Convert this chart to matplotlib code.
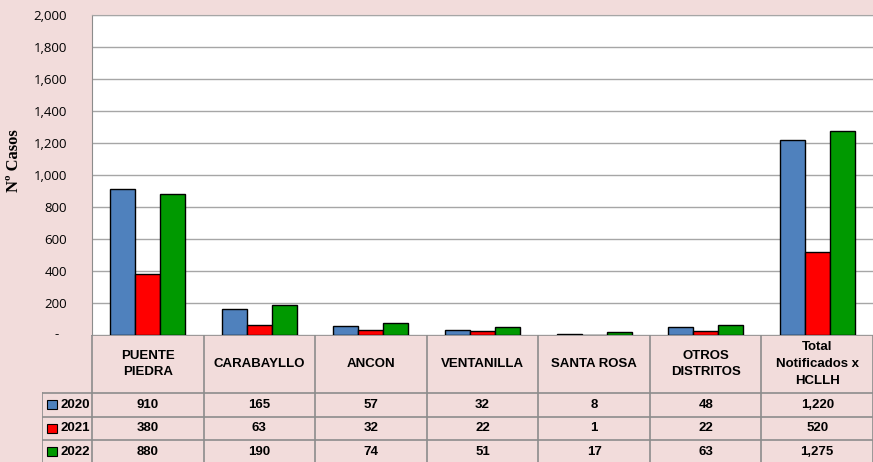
import matplotlib.pyplot as plt
import matplotlib.transforms as mtransforms
import numpy as np

plt.rcParams['font.family'] = ['Liberation Sans', 'DejaVu Sans']

# datos
distritos = ['PUENTE\nPIEDRA', 'CARABAYLLO', 'ANCON', 'VENTANILLA',
             'SANTA ROSA', 'OTROS\nDISTRITOS', 'Total\nNotificados x\nHCLLH']
anios = ['2020', '2021', '2022']
casos_2020 = [910, 165, 57, 32, 8, 48, 1220]
casos_2021 = [380, 63, 32, 22, 1, 22, 520]
casos_2022 = [880, 190, 74, 51, 17, 63, 1275]
colores = ['#4f81bd', '#ff0000', '#009900']
yticks = [0, 200, 400, 600, 800, 1000, 1200, 1400, 1600, 1800, 2000]

series = [casos_2020, casos_2021, casos_2022]
W, H = 873, 462
fondo = '#f2dcdb'
linea = '#8c8c8c'

fig = plt.figure(figsize=(W / 100, H / 100), dpi=100, facecolor=fondo)

# grafico de barras
ax = fig.add_axes([92 / W, 1 - 335 / H, (W - 92) / W, 320 / H])
ax.set_facecolor('white')
x = np.arange(len(distritos))
ancho = 0.224
for i, (vals, c) in enumerate(zip(series, colores)):
    ax.bar(x + (i - 1) * ancho, vals, width=ancho, color=c,
           edgecolor='black', linewidth=1, zorder=3)

ax.set_xlim(-0.5, len(distritos) - 0.5)
ax.set_ylim(0, 2000)
ax.set_yticks(yticks)
ax.set_yticklabels(['' if v == 0 else f'{v:,}' for v in yticks],
                   family='Open Sans', fontsize=9.5)
ax.tick_params(axis='y', length=0, pad=18)
# el cero se muestra como guion (formato contable)
trans = mtransforms.blended_transform_factory(fig.transFigure, ax.transData)
ax.text(57 / W, 0, '-', transform=trans, ha='center', va='center',
        family='Open Sans', fontsize=9.5)
ax.set_xticks([])
ax.grid(axis='y', color='#a6a6a6', linewidth=1, zorder=0)
for s in ['right', 'bottom']:
    ax.spines[s].set_visible(False)
ax.spines['top'].set_color('#a6a6a6')
ax.spines['left'].set_color(linea)
fig.text(14 / W, 1 - 161 / H, 'Nº Casos', family='Liberation Serif',
         fontweight='bold', fontsize=12, rotation=90, ha='center', va='center')

# tabla de datos
tax = fig.add_axes([42 / W, 0, (W - 42) / W, 127 / H])
leg_w = 50 / ((W - 92) / len(distritos))
tax.set_xlim(-leg_w, len(distritos))
tax.set_ylim(127, 0)
tax.axis('off')

fila_h = 23.5
y_head = 58
ys = [y_head + k * fila_h for k in range(len(anios) + 1)]

# lineas
tax.plot([0, len(distritos)], [0, 0], color=linea, lw=1.2)
for yy in ys:
    tax.plot([-leg_w, len(distritos)], [yy, yy], color=linea, lw=1.2)
for k in range(len(distritos) + 1):
    tax.plot([k, k], [0, 130], color=linea, lw=1.2)
tax.plot([-leg_w, -leg_w], [y_head, 130], color=linea, lw=1.2)

for k, name in enumerate(distritos):
    tax.text(k + 0.5, y_head / 2, name, ha='center', va='center',
             multialignment='center', fontsize=9.5, fontweight='bold',
             linespacing=1.5)

for r, (anio, vals, c) in enumerate(zip(anios, series, colores)):
    yc = y_head + (r + 0.5) * fila_h
    tax.add_patch(plt.Rectangle((-leg_w + 0.045, yc - 4.5), 0.085, 9,
                                facecolor=c, edgecolor='black', lw=0.8))
    tax.text(-0.02, yc, anio, ha='right', va='center', fontsize=9.5,
             fontweight='bold')
    for k, v in enumerate(vals):
        tax.text(k + 0.5, yc, f'{v:,}', ha='center', va='center',
                 fontsize=9.5, fontweight='bold')

fig.savefig('out.png', dpi=100, facecolor=fondo)
